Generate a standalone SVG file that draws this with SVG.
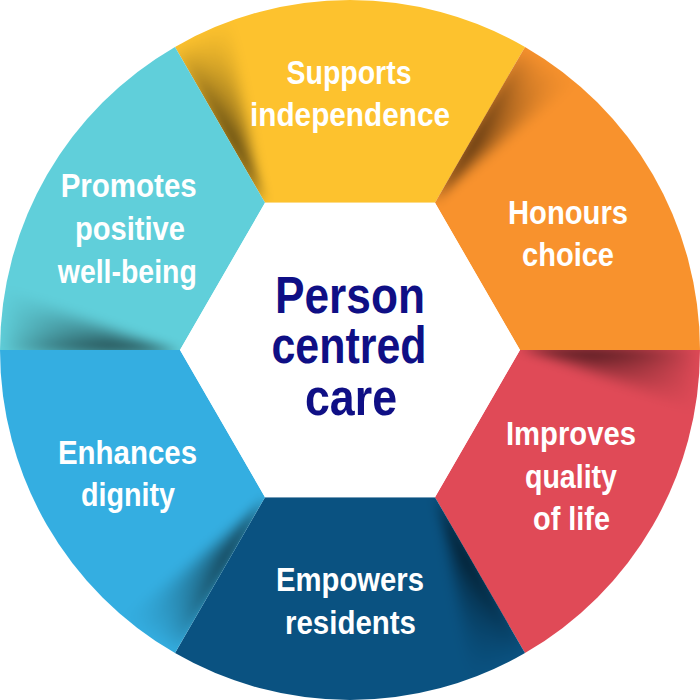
<svg xmlns="http://www.w3.org/2000/svg" width="700" height="700" viewBox="0 0 700 700">
<style>
.lbl{font-family:"Liberation Sans",Arial,sans-serif;font-weight:bold;font-size:33px;fill:#ffffff;text-anchor:middle}
.ctr{font-family:"Liberation Sans",Arial,sans-serif;font-weight:bold;font-size:52px;fill:#0f0f85;text-anchor:middle}
.sh{fill:url(#shg);fill-opacity:0.3}
</style>
<defs>
<path id="seg" d="M265,202.8 L175,46.9 A350,350 0 0 1 525,46.9 L435,202.8 Z"/>
<clipPath id="segclip" clipPathUnits="userSpaceOnUse"><use href="#seg"/></clipPath>
<linearGradient id="shg" gradientUnits="userSpaceOnUse" x1="265" y1="202.8" x2="175" y2="46.9">
<stop offset="0" stop-color="#000" stop-opacity="0.95"/>
<stop offset="0.4" stop-color="#000" stop-opacity="0.8"/>
<stop offset="0.8" stop-color="#000" stop-opacity="0.25"/>
<stop offset="1" stop-color="#000" stop-opacity="0"/>
</linearGradient>
<filter id="blur" x="-50%" y="-50%" width="200%" height="200%"><feGaussianBlur stdDeviation="6"/></filter>
<g id="shadow" clip-path="url(#segclip)">
<g filter="url(#blur)">
<polygon class="sh" points="263,204 160,28 174,22"/>
<polygon class="sh" points="263,204 160,28 188,15"/>
<polygon class="sh" points="263,204 160,28 208,7"/>
<polygon class="sh" points="263,204 160,28 225,2"/>
</g>
</g>
</defs>

<g id="node-supports">
<use href="#seg" fill="#fdc22e"/>
<use href="#shadow"/>
<text class="lbl" x="349" y="84" textLength="125" lengthAdjust="spacingAndGlyphs">Supports</text>
<text class="lbl" x="350" y="126" textLength="200" lengthAdjust="spacingAndGlyphs">independence</text>
</g>

<g id="node-honours">
<g transform="rotate(60 350 350)"><use href="#seg" fill="#f8922d"/><use href="#shadow"/></g>
<text class="lbl" x="568" y="224" textLength="120" lengthAdjust="spacingAndGlyphs">Honours</text>
<text class="lbl" x="568" y="266" textLength="92" lengthAdjust="spacingAndGlyphs">choice</text>
</g>

<g id="node-improves">
<g transform="rotate(120 350 350)"><use href="#seg" fill="#e04a57"/><use href="#shadow"/></g>
<text class="lbl" x="571" y="445" textLength="130" lengthAdjust="spacingAndGlyphs">Improves</text>
<text class="lbl" x="571" y="488" textLength="92" lengthAdjust="spacingAndGlyphs">quality</text>
<text class="lbl" x="571.5" y="530" textLength="77" lengthAdjust="spacingAndGlyphs">of life</text>
</g>

<g id="node-empowers">
<g transform="rotate(180 350 350)"><use href="#seg" fill="#0a5281"/><use href="#shadow"/></g>
<text class="lbl" x="350" y="591" textLength="148" lengthAdjust="spacingAndGlyphs">Empowers</text>
<text class="lbl" x="350.5" y="634" textLength="131" lengthAdjust="spacingAndGlyphs">residents</text>
</g>

<g id="node-enhances">
<g transform="rotate(240 350 350)"><use href="#seg" fill="#34aee1"/><use href="#shadow"/></g>
<text class="lbl" x="127.5" y="464" textLength="139" lengthAdjust="spacingAndGlyphs">Enhances</text>
<text class="lbl" x="128" y="506" textLength="94" lengthAdjust="spacingAndGlyphs">dignity</text>
</g>

<g id="node-promotes">
<g transform="rotate(300 350 350)"><use href="#seg" fill="#60cfda"/><use href="#shadow"/></g>
<text class="lbl" x="128.7" y="197" textLength="136" lengthAdjust="spacingAndGlyphs">Promotes</text>
<text class="lbl" x="130" y="240" textLength="110" lengthAdjust="spacingAndGlyphs">positive</text>
<text class="lbl" x="127.3" y="283" textLength="139" lengthAdjust="spacingAndGlyphs">well-being</text>
</g>

<g id="node-center">
<polygon points="265,202.8 435,202.8 520,350 435,497.2 265,497.2 180,350" fill="#ffffff"/>
<text class="ctr" x="350" y="313" textLength="150" lengthAdjust="spacingAndGlyphs">Person</text>
<text class="ctr" x="349" y="363" textLength="155" lengthAdjust="spacingAndGlyphs">centred</text>
<text class="ctr" x="351" y="415" textLength="92" lengthAdjust="spacingAndGlyphs">care</text>
</g>
</svg>
